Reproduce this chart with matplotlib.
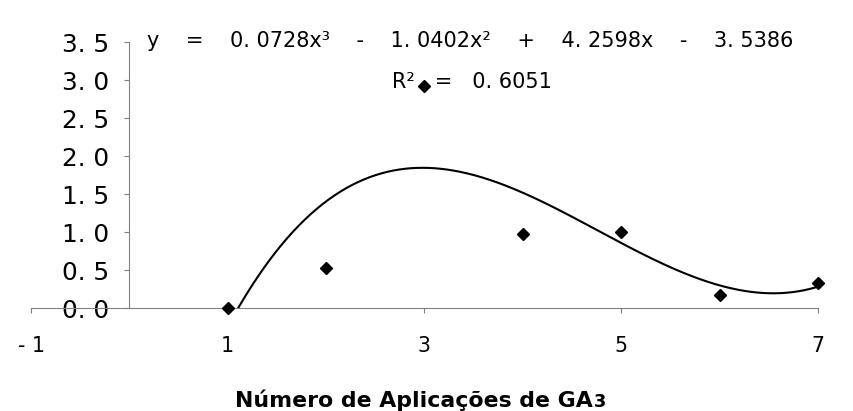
import numpy as np
import matplotlib
matplotlib.use('Agg')
import matplotlib.pyplot as plt
from matplotlib.ticker import FuncFormatter

# dados
aplicacoes = [1, 2, 3, 4, 5, 6, 7]
resposta = [0.0, 0.53, 2.92, 0.97, 1.00, 0.17, 0.33]
# coeficientes da linha de tendencia (polinomio de 3o grau)
coef_tendencia = [0.0728, -1.0402, 4.2598, -3.5386]
r2 = 0.6051
x_ticks = [-1, 1, 3, 5, 7]
y_ticks = [0.0, 0.5, 1.0, 1.5, 2.0, 2.5, 3.0, 3.5]

plt.rcParams['font.family'] = ['DejaVu Sans']
eixo_cor = '#808080'

fig = plt.figure(figsize=(8.54, 4.11), dpi=100)
ax = fig.add_axes([0.0363, 0.2506, 0.9215, 0.6472])

xs = np.linspace(aplicacoes[0], aplicacoes[-1], 300)
ax.plot(xs, np.polyval(coef_tendencia, xs), color='black', lw=1.5)
ax.plot(aplicacoes, resposta, 'D', color='black', ms=6.3, clip_on=False, zorder=3)

ax.set_xlim(-1, 7)
ax.set_ylim(0, 3.5)
ax.spines[['top', 'right']].set_visible(False)
ax.spines['left'].set_position(('data', 0))
for s in ('left', 'bottom'):
    ax.spines[s].set_color(eixo_cor)
    ax.spines[s].set_linewidth(0.8)

ax.set_xticks(x_ticks)
ax.set_yticks(y_ticks)
ax.xaxis.set_major_formatter(FuncFormatter(lambda v, p: f"{v:.0f}".replace('-', '- ')))
ax.yaxis.set_major_formatter(FuncFormatter(lambda v, p: f"{v:.1f}".replace('.', '. ')))
ax.tick_params(axis='y', length=3.6, width=0.8, color=eixo_cor, pad=10.8, labelsize=17.8)
ax.tick_params(axis='x', length=3.6, width=0.8, color=eixo_cor, pad=16.5, labelsize=14.8)

a, b, c, d = coef_tendencia
sp = "    "
eq = (f"y{sp}={sp}0. {str(a)[2:]}x³{sp}-{sp}{str(-b)[0]}. {str(-b)[2:]}x²{sp}+{sp}"
      f"{str(c)[0]}. {str(c)[2:]}x{sp}-{sp}{str(-d)[0]}. {str(-d)[2:]}")
fig.text(470 / 854, 1 - 47 / 411, eq, ha='center', va='baseline', fontsize=15)
fig.text(472 / 854, 1 - 88 / 411, f"R²   =   0. {str(r2)[2:]}", ha='center', va='baseline', fontsize=15)

rotulo = fig.text(414 / 854, 4 / 411, "Número de Aplicações de GA", ha='center', va='baseline',
                  fontsize=15.8, fontweight='bold')
ax.annotate('3', xy=(1, 0), xycoords=rotulo, xytext=(1, 0), textcoords='offset points',
            ha='left', va='bottom', fontsize=12.8, fontweight='bold')

fig.savefig('out.png', dpi=100)
